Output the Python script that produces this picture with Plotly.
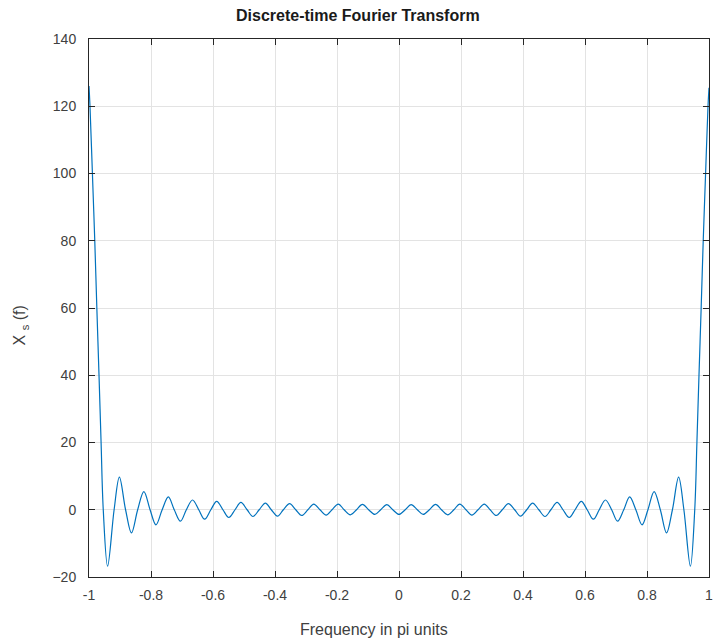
import plotly.graph_objects as go

# Sampled points of the DTFT curve (frequency in pi units)
freq = [
    -1.000, -0.9968, -0.9890, -0.9814, -0.9747, -0.9677, -0.9610, -0.9540,
    -0.940, -0.919, -0.902, -0.882, -0.863, -0.843, -0.823, -0.803,
    -0.784, -0.764, -0.744, -0.725, -0.705, -0.686, -0.666, -0.646,
    -0.627, -0.607, -0.588, -0.568, -0.549, -0.529, -0.510, -0.490,
    -0.471, -0.451, -0.431, -0.412, -0.392, -0.373, -0.353, -0.333,
    -0.314, -0.294, -0.275, -0.255, -0.235, -0.216, -0.196, -0.177,
    -0.157, -0.137, -0.118, -0.098, -0.078, -0.059, -0.039, -0.020,
    0.000,
    0.020, 0.039, 0.059, 0.078, 0.098, 0.118, 0.137, 0.157,
    0.177, 0.196, 0.216, 0.235, 0.255, 0.275, 0.294, 0.314,
    0.333, 0.353, 0.373, 0.392, 0.412, 0.431, 0.451, 0.471,
    0.490, 0.510, 0.529, 0.549, 0.568, 0.588, 0.607, 0.627,
    0.646, 0.666, 0.686, 0.705, 0.725, 0.744, 0.764, 0.784,
    0.803, 0.823, 0.843, 0.863, 0.882, 0.902, 0.919, 0.940,
    0.9540, 0.9610, 0.9677, 0.9747, 0.9814, 0.9890, 0.9968, 1.000,
]
xs = [
    126.0, 120.0, 100.0, 80.0, 60.0, 40.0, 20.0, 0.0,
    -16.8, 0.0, 9.7, 0.0, -6.9, 0.0, 5.4, 0.0,
    -4.5, 0.0, 3.8, 0.0, -3.4, 0.0, 2.9, 0.0,
    -2.8, 0.0, 2.5, 0.0, -2.3, 0.0, 2.2, 0.0,
    -2.0, 0.0, 2.0, 0.0, -1.9, 0.0, 1.8, 0.0,
    -1.7, 0.0, 1.7, 0.0, -1.6, 0.0, 1.7, 0.0,
    -1.5, 0.0, 1.6, 0.0, -1.4, 0.0, 1.5, 0.0,
    -1.4,
    0.0, 1.5, 0.0, -1.4, 0.0, 1.6, 0.0, -1.5,
    0.0, 1.7, 0.0, -1.6, 0.0, 1.7, 0.0, -1.7,
    0.0, 1.8, 0.0, -1.9, 0.0, 2.0, 0.0, -2.0,
    0.0, 2.2, 0.0, -2.3, 0.0, 2.5, 0.0, -2.8,
    0.0, 2.9, 0.0, -3.4, 0.0, 3.8, 0.0, -4.5,
    0.0, 5.4, 0.0, -6.9, 0.0, 9.7, 0.0, -16.8,
    0.0, 20.0, 40.0, 60.0, 80.0, 100.0, 120.0, 125.5,
]

x_ticks = [-1, -0.8, -0.6, -0.4, -0.2, 0, 0.2, 0.4, 0.6, 0.8, 1]
x_tick_text = ["-1", "-0.8", "-0.6", "-0.4", "-0.2", "0", "0.2", "0.4", "0.6", "0.8", "1"]
y_ticks = [-20, 0, 20, 40, 60, 80, 100, 120, 140]

W, H = 714, 640
ML, MR, MT, MB = 89, 1, 39, 63
FONT = "Liberation Sans, Arial, sans-serif"

fig = go.Figure()
fig.add_trace(go.Scatter(
    x=freq, y=xs, mode="lines",
    line=dict(color="#0072BD", width=1.2, shape="spline", smoothing=1.0),
    hoverinfo="skip", showlegend=False,
))

axis_common = dict(
    showline=True, linecolor="#262626", linewidth=1, mirror="ticks",
    ticks="inside", ticklen=6, tickcolor="#262626", tickwidth=1,
    showgrid=True, gridcolor="#e3e3e3", gridwidth=1,
    zeroline=False,
    tickfont=dict(family=FONT, size=14, color="#404040"),
)

fig.update_xaxes(range=[-1, 1], tickvals=x_ticks, ticktext=x_tick_text,
                 ticklabelstandoff=5, ticklabeloverflow="allow", **axis_common)
fig.update_yaxes(range=[-20, 140], tickvals=y_ticks,
                 ticklabelstandoff=9, ticklabeloverflow="allow", **axis_common)

def px_to_paper_x(px):
    return (px - ML) / (W - ML - MR)

def px_to_paper_y(py):
    return (H - MB - py) / (H - MT - MB)

fig.add_annotation(
    text="<b>Discrete-time Fourier Transform</b>",
    xref="paper", yref="paper", x=px_to_paper_x(360), y=px_to_paper_y(15),
    showarrow=False, xanchor="center", yanchor="middle",
    font=dict(family=FONT, size=16, color="#1a1a1a"),
)
fig.add_annotation(
    text="Frequency in pi units",
    xref="paper", yref="paper", x=px_to_paper_x(376), y=px_to_paper_y(629),
    showarrow=False, xanchor="center", yanchor="middle",
    font=dict(family=FONT, size=16, color="#404040"),
)
fig.add_annotation(
    text="X <sub>s</sub> (f)",
    xref="paper", yref="paper", x=px_to_paper_x(20), y=px_to_paper_y(325),
    showarrow=False, xanchor="center", yanchor="middle", textangle=-90,
    font=dict(family=FONT, size=16, color="#404040"),
)

fig.update_layout(
    width=W, height=H,
    margin=dict(l=ML, r=MR, t=MT, b=MB),
    paper_bgcolor="white", plot_bgcolor="white",
)

fig.write_html("out.html")
